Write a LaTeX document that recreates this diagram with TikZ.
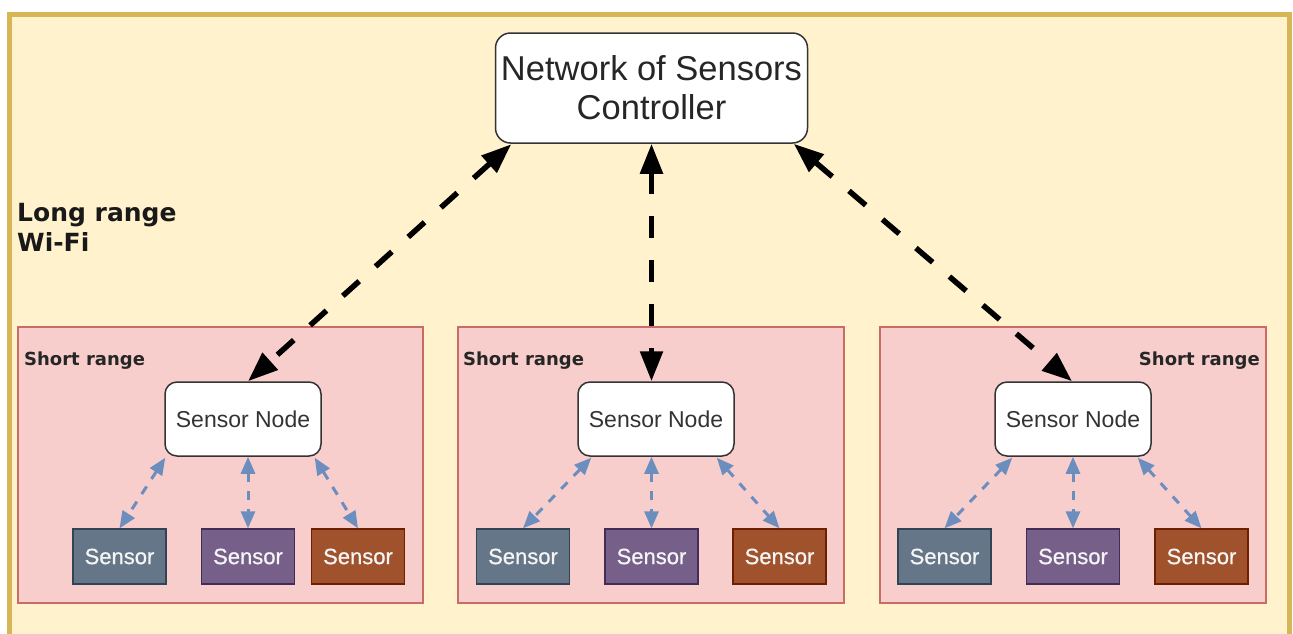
\documentclass[tikz,border=0pt]{standalone}
\usepackage{fontspec}
\setmainfont{Liberation Sans}
\newfontfamily\labelfont{DejaVu Sans}
\newfontfamily\sensorfont[FakeBold=0.8]{Liberation Sans}
\usetikzlibrary{arrows.meta,calc}

\definecolor{frameFill}{HTML}{FFF2CC}
\definecolor{frameLine}{HTML}{D6B656}
\definecolor{groupFill}{HTML}{F8CECC}
\definecolor{groupLine}{HTML}{C96B67}
\definecolor{linkBlue}{HTML}{6C8EBF}
\definecolor{slateFill}{HTML}{647687}
\definecolor{slateLine}{HTML}{314354}
\definecolor{plumFill}{HTML}{76608A}
\definecolor{plumLine}{HTML}{432D57}
\definecolor{rustFill}{HTML}{A0522D}
\definecolor{rustLine}{HTML}{6D1F00}

\begin{document}
\begin{tikzpicture}[x=1pt,y=-1pt,
  ctrlbox/.style={draw=black!80, line width=1.5pt, fill=white, rounded corners=15pt,
    minimum width=312pt, minimum height=110pt, inner sep=0pt, align=center,
    font=\fontsize{34.5}{39}\selectfont, text=black!85},
  nodebox/.style={draw=black!80, line width=1.5pt, fill=white, rounded corners=12pt,
    minimum width=156pt, minimum height=74pt, inner sep=0pt,
    font=\fontsize{23}{27}\selectfont, text=black!80},
  sensorbox/.style 2 args={fill=#1, draw=#2, line width=1.3pt,
    minimum width=93pt, minimum height=55pt, inner sep=0pt,
    text=white!96!black, font=\sensorfont\fontsize{22}{26}\selectfont},
  groupbox/.style={fill=groupFill, draw=groupLine, line width=1.3pt,
    minimum height=276pt, inner sep=0pt},
  grouplabel/.style={font=\labelfont\bfseries\fontsize{18}{22}\selectfont,
    text=black!85, inner sep=0pt},
  longlink/.style={draw=black, line width=5.5pt, dash pattern=on 22pt off 22pt,
    {Triangle[length=30pt,width=22pt]}-{Triangle[length=30pt,width=22pt]}},
  shortlink/.style={draw=linkBlue, line width=3pt, dash pattern=on 9pt off 9pt,
    {Triangle[length=17pt,width=14pt]}-{Triangle[length=17pt,width=14pt]}}
]
\useasboundingbox (0,0) rectangle (1293,633);
\fill[white] (0,0) rectangle (1293,633);

% outer frame (its lower edge runs past the page)
\begin{scope}
  \clip (0,0) rectangle (1293,633);
  \draw[frameLine, fill=frameFill, line width=5pt] (9.5,14.5) rectangle (1289.5,700);
\end{scope}

\node[font=\labelfont\bfseries\fontsize{25}{30}\selectfont, text=black!90,
      align=left, inner sep=0pt, anchor=north west] (wifi) at (17,203)
      {Long range\\Wi-Fi};

% short-range groups
\node[groupbox, minimum width=405pt] (g1) at (220.5,465) {};
\node[groupbox, minimum width=386pt] (g2) at (651,465) {};
\node[groupbox, minimum width=386pt] (g3) at (1073,465) {};

\node[grouplabel, anchor=base west] (l1) at (24,365) {Short range};
\node[grouplabel, anchor=base west] (l2) at (463,365) {Short range};
\node[grouplabel, anchor=base east] (l3) at (1260,365) {Short range};

% controller
\node[ctrlbox] (ctrl) at (651.5,88) {Network of Sensors\\Controller};

% sensor nodes
\node[nodebox] (sn1) at (243,419) {Sensor Node};
\node[nodebox] (sn2) at (656,419) {Sensor Node};
\node[nodebox] (sn3) at (1073,419) {Sensor Node};

% sensors
\node[sensorbox={slateFill}{slateLine}] (s11) at (119.5,556.5) {Sensor};
\node[sensorbox={plumFill}{plumLine}]   (s12) at (248,556.5) {Sensor};
\node[sensorbox={rustFill}{rustLine}]   (s13) at (358,556.5) {Sensor};

\node[sensorbox={slateFill}{slateLine}] (s21) at (523,556.5) {Sensor};
\node[sensorbox={plumFill}{plumLine}]   (s22) at (651.5,556.5) {Sensor};
\node[sensorbox={rustFill}{rustLine}]   (s23) at (779.5,556.5) {Sensor};

\node[sensorbox={slateFill}{slateLine}] (s31) at (944.5,556.5) {Sensor};
\node[sensorbox={plumFill}{plumLine}]   (s32) at (1073,556.5) {Sensor};
\node[sensorbox={rustFill}{rustLine}]   (s33) at (1201.5,556.5) {Sensor};

% long-range links
\draw[longlink] ($(ctrl.south west)+(16.5,0.5)$) -- ($(sn1.north)+(5,0)$);
\draw[longlink] (ctrl.south) -- (ctrl.south |- sn2.north);
\draw[longlink] ($(ctrl.south east)+(-14.5,0)$) -- ($(sn3.north)+(-1,0)$);

% short-range links
\draw[shortlink] ($(sn1.south west)+(1,1)$) -- (s11.north);
\draw[shortlink] (s12.north |- sn1.south) -- (s12.north);
\draw[shortlink] ($(sn1.south east)+(-7,1)$) -- (s13.north);

\draw[shortlink] ($(sn2.south west)+(14,1)$) -- (s21.north);
\draw[shortlink] (s22.north |- sn2.south) -- (s22.north);
\draw[shortlink] ($(sn2.south east)+(-18,1)$) -- (s23.north);

\draw[shortlink] ($(sn3.south west)+(18,1)$) -- (s31.north);
\draw[shortlink] (s32.north |- sn3.south) -- (s32.north);
\draw[shortlink] ($(sn3.south east)+(-14,1)$) -- (s33.north);
\end{tikzpicture}
\end{document}
